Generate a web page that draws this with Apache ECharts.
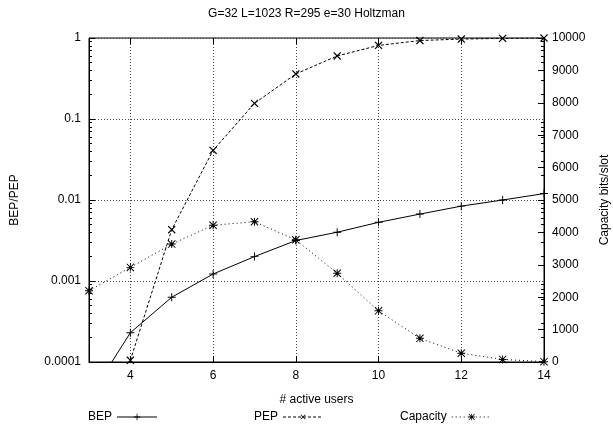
<!DOCTYPE html>
<html>
<head>
<meta charset="utf-8">
<script src="https://cdn.jsdelivr.net/npm/echarts@6/dist/echarts.min.js"></script>
<style>
  html, body { margin: 0; padding: 0; background: #fff; }
  #main { width: 613px; height: 434px; }
</style>
</head>
<body>
<div id="main"></div>
<script>
// data
const users = [3, 4, 5, 6, 7, 8, 9, 10, 11, 12, 13, 14];
const bep = [3.6e-5, 2.3e-4, 6.3e-4, 1.22e-3, 2.0e-3, 3.16e-3, 4.0e-3, 5.3e-3, 6.7e-3, 8.4e-3, 1.0e-2, 1.2e-2];
const pep = [null, 1.05e-4, 4.3e-3, 0.041, 0.156, 0.36, 0.6, 0.81, 0.93, 0.97, 0.99, 1.0];
const capacity = [2200, 2920, 3640, 4220, 4330, 3770, 2740, 1580, 730, 270, 80, 10];
const xTicks = [4, 6, 8, 10, 12, 14];
const logMinor = [
  0.0002, 0.0003, 0.0004, 0.0005, 0.0006, 0.0007, 0.0008, 0.0009,
  0.002, 0.003, 0.004, 0.005, 0.006, 0.007, 0.008, 0.009,
  0.02, 0.03, 0.04, 0.05, 0.06, 0.07, 0.08, 0.09,
  0.2, 0.3, 0.4, 0.5, 0.6, 0.7, 0.8, 0.9
];

const font = 'Liberation Sans, Arial, sans-serif';
const plusPath = 'path://M4.4,0H5.6V4.4H10V5.6H5.6V10H4.4V5.6H0V4.4H4.4Z';
const starPath = 'path://M4.4,0H5.6V4.4H10V5.6H5.6V10H4.4V5.6H0V4.4H4.4Z' +
  'M0,0.85L0.85,0L10,9.15L9.15,10Z M9.15,0L10,0.85L0.85,10L0,9.15Z';

const pairs = arr => users.map((u, i) => [u, arr[i]]);
const dotted = { color: '#444', type: [1, 2], width: 1 };

const myChart = echarts.init(document.getElementById('main'));

const legendBase = {
  align: 'right',
  itemWidth: 40,
  itemHeight: 8,
  itemGap: 0,
  padding: 0,
  top: 411,
  lineStyle: { width: 1 },
  textStyle: { fontFamily: font, fontSize: 12, color: '#000' }
};

const option = {
  animation: false,
  backgroundColor: '#fff',
  textStyle: { fontFamily: font },
  title: {
    text: 'G=32 L=1023 R=295 e=30 Holtzman',
    left: 'center',
    top: 3,
    textStyle: { fontFamily: font, fontSize: 12, fontWeight: 'normal', color: '#000' }
  },
  legend: [
    Object.assign({ data: ['BEP'], left: 88 }, legendBase),
    Object.assign({ data: ['PEP'], left: 254 }, legendBase),
    Object.assign({ data: ['Capacity'], left: 400 }, legendBase)
  ],
  grid: {
    left: 89, right: 69, top: 38, bottom: 72,
    outerBoundsMode: 'none',
    show: true, borderColor: '#000', borderWidth: 1
  },
  xAxis: [
    {
      type: 'value', min: 3, max: 14,
      name: '# active users', nameLocation: 'middle', nameGap: 32,
      nameTextStyle: { fontFamily: font, fontSize: 12, color: '#000' },
      axisLine: { show: true, lineStyle: { color: '#000' } },
      axisTick: { inside: true, length: 6, customValues: xTicks, lineStyle: { color: '#000' } },
      axisLabel: { customValues: xTicks, margin: 8, fontFamily: font, fontSize: 12, color: '#000' },
      splitLine: { show: true, lineStyle: dotted }
    },
    {
      type: 'value', min: 3, max: 14, position: 'top',
      axisLine: { show: false },
      axisTick: { inside: true, length: 6, customValues: xTicks, lineStyle: { color: '#000' } },
      axisLabel: { show: false },
      splitLine: { show: false }
    }
  ],
  yAxis: [
    {
      type: 'log', logBase: 10, min: 0.0001, max: 1, position: 'left',
      name: 'BEP/PEP', nameLocation: 'middle', nameGap: 68, nameRotate: 90,
      nameTextStyle: { fontFamily: font, fontSize: 12, color: '#000' },
      axisLine: { show: true, lineStyle: { color: '#000' } },
      axisTick: { inside: true, length: 6, lineStyle: { color: '#000' } },
      axisLabel: {
        margin: 8, fontFamily: font, fontSize: 12, color: '#000',
        formatter: v => String(parseFloat(Number(v).toPrecision(1)))
      },
      splitLine: { show: true, lineStyle: dotted }
    },
    {
      type: 'value', min: 0, max: 10000, interval: 1000, position: 'right',
      name: 'Capacity bits/slot', nameLocation: 'middle', nameGap: 55, nameRotate: 90,
      nameTextStyle: { fontFamily: font, fontSize: 12, color: '#000' },
      axisLine: { show: true, lineStyle: { color: '#000' } },
      axisTick: { inside: true, length: 6, lineStyle: { color: '#000' } },
      axisLabel: { margin: 8, fontFamily: font, fontSize: 12, color: '#000', formatter: v => String(v) },
      splitLine: { show: false }
    },
    {
      type: 'log', logBase: 10, min: 0.0001, max: 1, position: 'left',
      axisLine: { show: false },
      axisTick: { inside: true, length: 3, customValues: logMinor, lineStyle: { color: '#000' } },
      axisLabel: { show: false },
      splitLine: { show: false }
    },
    {
      type: 'log', logBase: 10, min: 0.0001, max: 1, position: 'right',
      axisLine: { show: false },
      axisTick: { inside: true, length: 3, customValues: logMinor, lineStyle: { color: '#000' } },
      axisLabel: { show: false },
      splitLine: { show: false }
    }
  ],
  series: [
    {
      name: 'BEP', type: 'line', yAxisIndex: 0, clip: true,
      data: pairs(bep),
      symbol: plusPath, symbolSize: 8,
      itemStyle: { color: '#000' },
      lineStyle: { color: '#000', width: 1, type: 'solid' }
    },
    {
      name: 'PEP', type: 'line', yAxisIndex: 0, clip: true,
      data: pairs(pep),
      symbol: plusPath, symbolSize: 10, symbolRotate: 45,
      itemStyle: { color: '#000' },
      lineStyle: { color: '#000', width: 1, type: [3, 2] }
    },
    {
      name: 'Capacity', type: 'line', yAxisIndex: 1, clip: true,
      data: pairs(capacity),
      symbol: starPath, symbolSize: 8,
      itemStyle: { color: '#000' },
      lineStyle: { color: '#000', width: 1, type: [1, 3] }
    }
  ]
};

myChart.setOption(option);
</script>
</body>
</html>
